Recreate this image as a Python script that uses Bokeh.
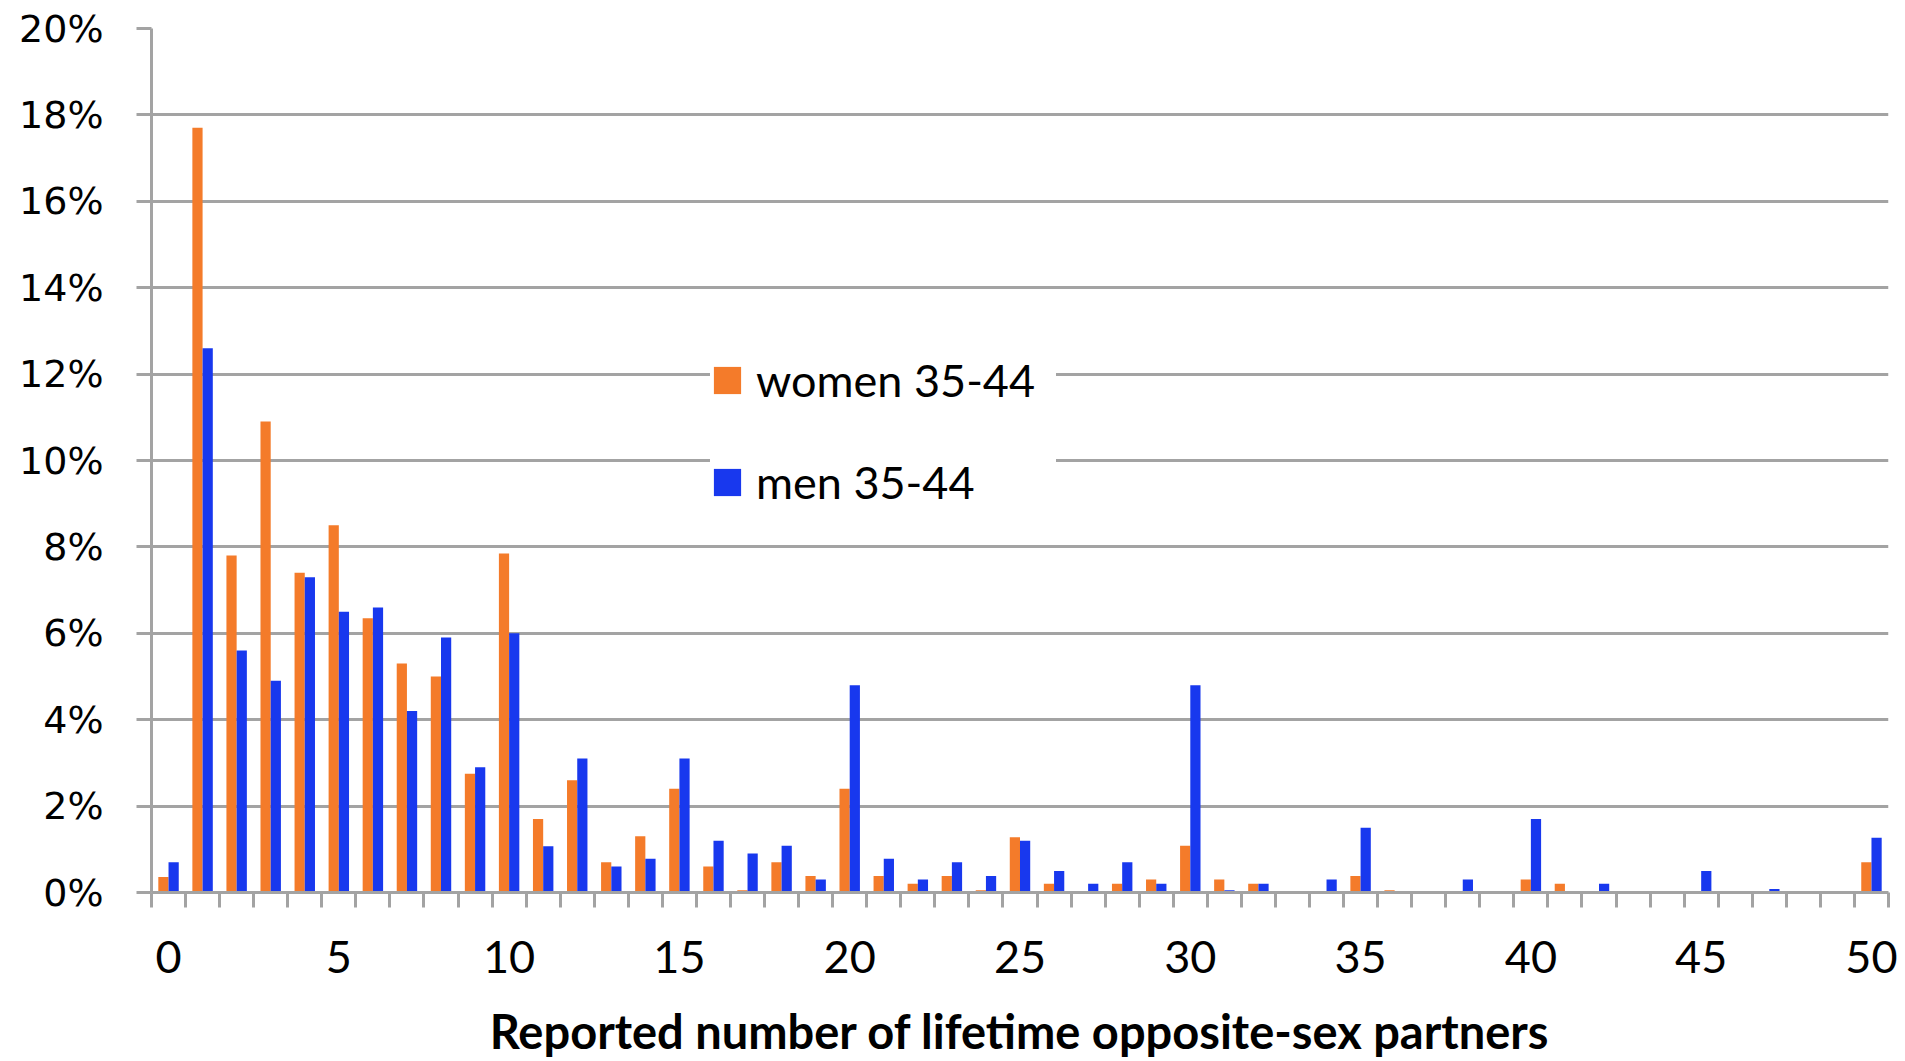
from bokeh.plotting import figure
from bokeh.models import (ColumnDataSource, Range1d, FixedTicker, Legend, LegendItem)
from bokeh.transform import dodge
from bokeh.embed import file_html
from bokeh.resources import INLINE

# ---- data (percent of respondents) ----
partners = list(range(51))
women = [0.36, 17.7, 7.8, 10.9, 7.4, 8.5, 6.35, 5.3, 5.0, 2.75,
         7.85, 1.7, 2.6, 0.7, 1.3, 2.4, 0.6, 0.05, 0.7, 0.38,
         2.4, 0.38, 0.2, 0.38, 0.05, 1.28, 0.2, 0.0, 0.2, 0.3,
         1.08, 0.3, 0.2, 0.0, 0.0, 0.38, 0.05, 0.0, 0.0, 0.0,
         0.3, 0.2, 0.0, 0.0, 0.0, 0.0, 0.0, 0.0, 0.0, 0.0,
         0.7]
men = [0.7, 12.6, 5.6, 4.9, 7.3, 6.5, 6.6, 4.2, 5.9, 2.9,
       6.0, 1.07, 3.1, 0.6, 0.78, 3.1, 1.2, 0.9, 1.08, 0.3,
       4.8, 0.78, 0.3, 0.7, 0.38, 1.2, 0.5, 0.2, 0.7, 0.2,
       4.8, 0.05, 0.2, 0.0, 0.3, 1.5, 0.0, 0.0, 0.3, 0.0,
       1.7, 0.0, 0.2, 0.0, 0.0, 0.5, 0.0, 0.08, 0.0, 0.0,
       1.27]
series_names = ["women 35-44", "men 35-44"]
x_tick_values = [0, 5, 10, 15, 20, 25, 30, 35, 40, 45, 50]
x_tick_labels = ["0", "5", "10", "15", "20", "25", "30", "35", "40", "45", "50"]
y_tick_values = [0, 2, 4, 6, 8, 10, 12, 14, 16, 18, 20]
y_tick_labels = ["0%", "2%", "4%", "6%", "8%", "10%", "12%", "14%", "16%", "18%", "20%"]
x_title = "Reported number of lifetime opposite-sex partners"

ORANGE = "#F47B2A"
BLUE = "#1838EE"
GRID = "#a3a3a3"

source = ColumnDataSource(data=dict(partners=partners, women=women, men=men))

p = figure(width=1897, height=1061, output_backend="svg", toolbar_location=None,
           x_range=Range1d(-0.5, 50.5), y_range=Range1d(0, 20),
           min_border_left=151, min_border_right=9, min_border_top=28,
           min_border_bottom=168)
p.outline_line_color = None
p.background_fill_color = "white"
p.border_fill_color = "white"

r_w = p.vbar(x=dodge("partners", -0.15, range=p.x_range), top="women", width=0.3,
             source=source, fill_color=ORANGE, line_color=None)
r_m = p.vbar(x=dodge("partners", 0.15, range=p.x_range), top="men", width=0.3,
             source=source, fill_color=BLUE, line_color=None)

# x axis
xa = p.xaxis[0]
xa.ticker = FixedTicker(ticks=x_tick_values,
                        minor_ticks=[v - 0.5 for v in partners] + [partners[-1] + 0.5])
xa.major_label_overrides = {v: s for v, s in zip(x_tick_values, x_tick_labels)}
xa.major_tick_out = 0
xa.major_tick_in = 0
xa.minor_tick_out = 15
xa.minor_tick_in = 0
xa.minor_tick_line_color = GRID
xa.minor_tick_line_width = 3
xa.axis_line_color = GRID
xa.axis_line_width = 3
xa.major_label_text_font = "Lato"
xa.major_label_text_font_size = "45px"
xa.major_label_text_color = "black"
xa.major_label_standoff = 33
xa.axis_label = x_title
xa.axis_label_text_font = "Lato"
xa.axis_label_text_font_style = "bold"
xa.axis_label_text_font_size = "47px"
xa.axis_label_text_color = "black"
xa.axis_label_standoff = 27

# y axis
ya = p.yaxis[0]
ya.ticker = FixedTicker(ticks=y_tick_values, minor_ticks=[])
ya.major_label_overrides = {v: s for v, s in zip(y_tick_values, y_tick_labels)}
ya.major_tick_out = 15
ya.major_tick_in = 0
ya.major_tick_line_color = GRID
ya.major_tick_line_width = 3
ya.minor_tick_out = 0
ya.minor_tick_in = 0
ya.axis_line_color = GRID
ya.axis_line_width = 3
ya.major_label_text_font = "DejaVu Sans"
ya.major_label_text_font_size = "38px"
ya.major_label_text_color = "black"
ya.major_label_standoff = 33

p.xgrid.visible = False
p.ygrid.ticker = FixedTicker(ticks=y_tick_values)
p.ygrid.grid_line_color = GRID
p.ygrid.grid_line_width = 3

legend = Legend(items=[LegendItem(label=series_names[0], renderers=[r_w]),
                       LegendItem(label=series_names[1], renderers=[r_m])],
                location=(559, 383), orientation="vertical")
legend.background_fill_color = "white"
legend.background_fill_alpha = 1.0
legend.border_line_color = None
legend.padding = 28
legend.margin = 0
legend.glyph_width = 34
legend.glyph_height = 34
legend.label_standoff = 12
legend.label_width = 300
legend.label_text_font = "Lato"
legend.label_text_font_size = "45px"
legend.label_text_color = "black"
legend.spacing = 48
p.add_layout(legend, "center")

open("out.html", "w").write(file_html(p, INLINE))
